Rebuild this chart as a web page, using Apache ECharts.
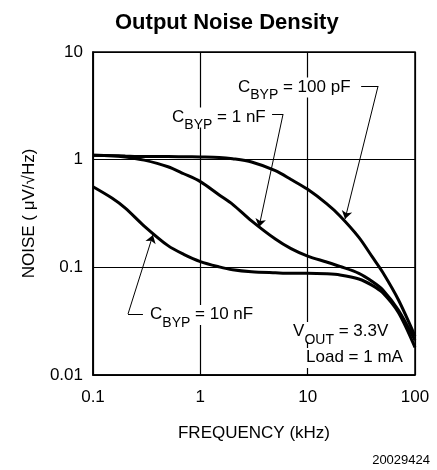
<!DOCTYPE html>
<html>
<head>
<meta charset="utf-8">
<script src="https://cdn.jsdelivr.net/npm/echarts@6/dist/echarts.min.js"></script>
<style>
  html, body { margin: 0; padding: 0; background: #fff; }
  #chart { width: 437px; height: 470px; }
</style>
</head>
<body>
<div id="chart"></div>
<script>
// frequency points (kHz)
const freq = [0.1, 0.15, 0.2, 0.3, 0.5, 0.7, 1, 1.5, 2, 3, 5, 7, 10, 15, 20, 30, 40, 50, 70, 100]

// noise (uV/rtHz) for each bypass cap
const noise100pF = [1.1, 1.09, 1.08, 1.07, 1.07, 1.065, 1.06, 1.05, 1.02, 0.95, 0.79, 0.655, 0.53, 0.39, 0.3, 0.19, 0.125, 0.09, 0.05, 0.023]
const noise1nF = [1.1, 1.09, 1.06, 0.99, 0.86, 0.74, 0.625, 0.47, 0.385, 0.27, 0.183, 0.149, 0.127, 0.112, 0.102, 0.088, 0.074, 0.062, 0.04, 0.021]
const noise10nF = [0.56, 0.44, 0.355, 0.242, 0.159, 0.132, 0.113, 0.101, 0.095, 0.091, 0.089, 0.088, 0.088, 0.087, 0.085, 0.078, 0.068, 0.058, 0.038, 0.018]

const xTicks = [0.1, 1, 10, 100]
const yTicks = [0.01, 0.1, 1, 10]

// leader lines in data coords: bracket start, bracket end, arrow tip
const leaders100pF = [[31.5, 4.83], [45.3, 4.83], [22.3, 0.281]]
const leaders1nF = [[4.66, 2.65], [5.9, 2.65], [3.52, 0.237]]
const leaders10nF = [[0.292, 0.0369], [0.212, 0.0369], [0.362, 0.2]]

// annotation text anchors (left edge, middle)
const notes = [
  { coord: [2.24, 4.68], text: '{c|C}{s|BYP}{c| = 100 pF}' },
  { coord: [0.545, 2.47], text: '{c|C}{s|BYP}{c| = 1 nF}' },
  { coord: [0.34, 0.0361], text: '{c|C}{s|BYP}{c| = 10 nF}' },
  { coord: [7.31, 0.0251], text: '{c|V}{s|OUT}{c| = 3.3V}' },
  { coord: [9.66, 0.0144], text: '{c|Load = 1 mA}' }
]

const pairs = (xs, ys) => xs.map((x, i) => [x, ys[i]])

const leaderLines = (pts) => [
  [{ coord: pts[0], symbol: 'none' }, { coord: pts[1], symbol: 'none' }],
  [{ coord: pts[1], symbol: 'none' }, { coord: pts[2], symbol: 'arrow', symbolSize: 8 }]
]

const font = 'Liberation Sans, Arial, sans-serif'
const richStyle = {
  c: { fontSize: 17, fontFamily: font, color: '#000', lineHeight: 18, verticalAlign: 'top' },
  s: { fontSize: 14, fontFamily: font, color: '#000', lineHeight: 14, padding: [10, 0, 0, 0], verticalAlign: 'top' }
}

const curve = (name, values) => ({
  name,
  type: 'line',
  data: pairs(freq, values),
  smooth: 0.3,
  showSymbol: false,
  lineStyle: { color: '#000', width: 3 },
  z: 3
})

const chart = echarts.init(document.getElementById('chart'))

const series = [
  curve('100 pF', noise100pF),
  curve('1 nF', noise1nF),
  curve('10 nF', noise10nF)
]

series[0].markLine = {
  silent: true,
  symbol: ['none', 'none'],
  lineStyle: { color: '#000', width: 1, type: 'solid' },
  label: { show: false },
  data: [...leaderLines(leaders100pF), ...leaderLines(leaders1nF), ...leaderLines(leaders10nF)]
}

series[0].markPoint = {
  silent: true,
  symbol: 'circle',
  symbolSize: 0,
  data: notes.map(n => ({
    coord: n.coord,
    label: {
      show: true,
      position: 'right',
      distance: 0,
      formatter: n.text,
      backgroundColor: '#fff',
      padding: [1, 2, 1, 0],
      rich: richStyle
    }
  }))
}

const axisText = { fontFamily: font, fontSize: 17, color: '#000' }

const option = {
  animation: false,
  title: {
    text: 'Output Noise Density',
    left: 110,
    top: 7,
    textStyle: { fontFamily: font, fontSize: 22, fontWeight: 'bold', color: '#000' }
  },
  grid: {
    left: 93,
    right: 22,
    top: 52,
    bottom: 95,
    show: true,
    borderColor: '#000',
    borderWidth: 1.5
  },
  xAxis: {
    type: 'log',
    logBase: 10,
    min: xTicks[0],
    max: xTicks[xTicks.length - 1],
    name: 'FREQUENCY (kHz)',
    nameLocation: 'middle',
    nameGap: 50,
    nameTextStyle: axisText,
    axisLine: { lineStyle: { color: '#000', width: 1.5 } },
    axisTick: { show: false },
    axisLabel: {
      ...axisText,
      margin: 14,
      formatter: v => String(+v.toPrecision(3))
    },
    splitLine: { show: true, lineStyle: { color: '#000', width: 1.2 } }
  },
  yAxis: {
    type: 'log',
    logBase: 10,
    min: yTicks[0],
    max: yTicks[yTicks.length - 1],
    name: 'NOISE ( \u03bcV/\u221aHz)',
    nameLocation: 'middle',
    nameGap: 55,
    nameTextStyle: axisText,
    axisLine: { lineStyle: { color: '#000', width: 1.5 } },
    axisTick: { show: false },
    axisLabel: {
      ...axisText,
      margin: 10,
      formatter: v => String(+v.toPrecision(3))
    },
    splitLine: { show: true, lineStyle: { color: '#000', width: 1.2 } }
  },
  graphic: [{
    type: 'text',
    right: 7,
    top: 454,
    style: { text: '20029424', fontFamily: font, fontSize: 13, fill: '#000' }
  }],
  series
}

chart.setOption(option)
window.addEventListener('resize', () => chart.resize())
</script>
</body>
</html>
